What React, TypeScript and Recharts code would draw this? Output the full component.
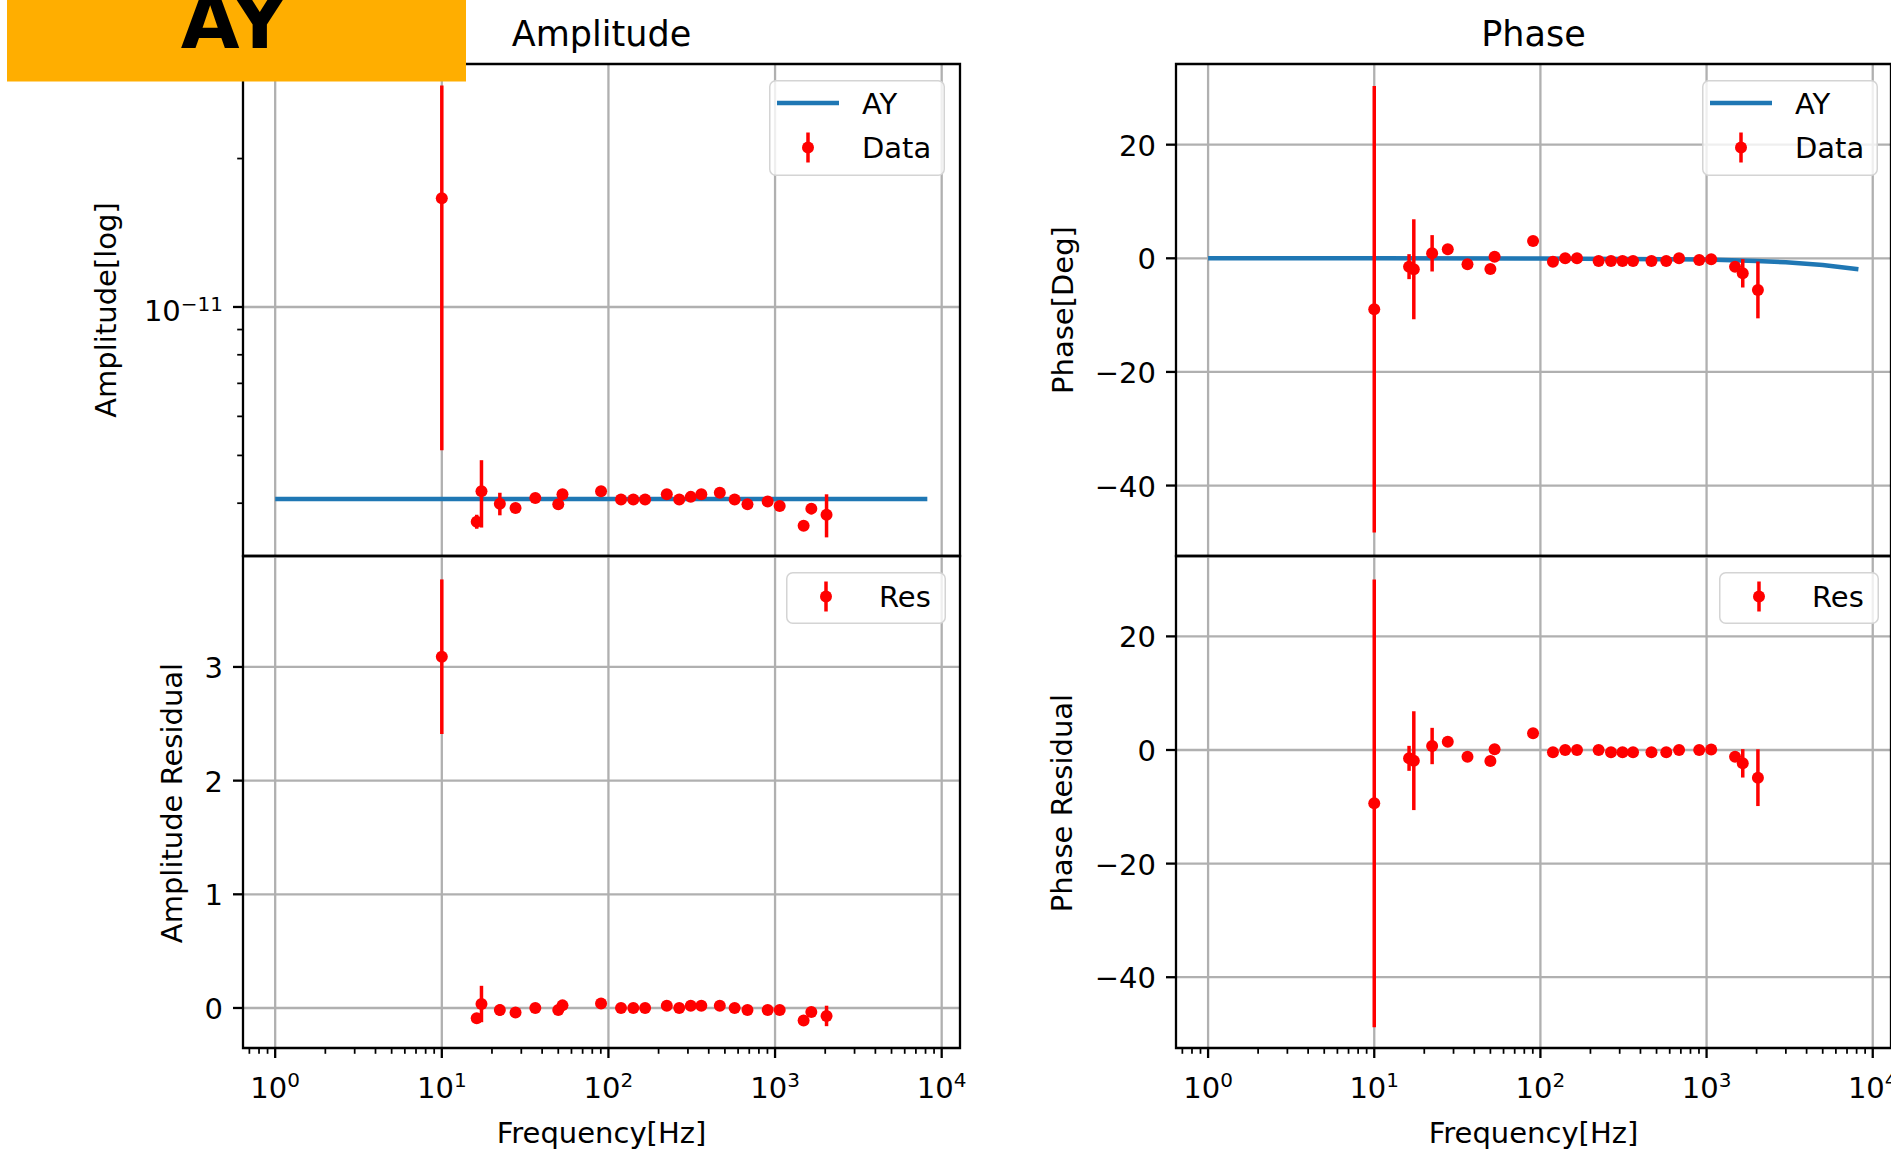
import React from 'react';
import {
  ComposedChart, XAxis, YAxis, CartesianGrid, Scatter, ErrorBar,
  Line, ReferenceArea, Legend,
} from 'recharts';

const FONT = '"DejaVu Sans", sans-serif';
const RED = '#ff0000';
const BLUE = '#1f77b4';
const GRID = '#b0b0b0';

// measurement frequencies [Hz]
const freqs = [10, 16.2, 17.3, 22.3, 27.7, 36.4, 50, 53, 90.3, 119, 141, 166, 224, 266, 312, 361, 466, 572, 683, 903, 1066, 1484, 1651, 2037];

// amplitude (linear units) and 1-sigma errors
const ampVals = [16.62e-12, 3.67e-12, 4.23e-12, 3.99e-12, 3.91e-12, 4.10e-12, 3.98e-12, 4.17e-12, 4.23e-12, 4.07e-12, 4.07e-12, 4.07e-12, 4.17e-12, 4.07e-12, 4.12e-12, 4.17e-12, 4.20e-12, 4.07e-12, 3.98e-12, 4.03e-12, 3.95e-12, 3.60e-12, 3.90e-12, 3.79e-12];
const ampErrs = [11.5e-12, 0.12e-12, 0.66e-12, 0.21e-12, 0.05e-12, 0.04e-12, 0.1e-12, 0.1e-12, 0.06e-12, 0.04e-12, 0.03e-12, 0.03e-12, 0.04e-12, 0.03e-12, 0.03e-12, 0.03e-12, 0.05e-12, 0.03e-12, 0.03e-12, 0.03e-12, 0.04e-12, 0.05e-12, 0.1e-12, 0.38e-12];

const ampRes = [3.09, -0.09, 0.035, -0.018, -0.04, 0, -0.018, 0.023, 0.04, 0, 0, 0, 0.02, 0, 0.02, 0.02, 0.02, 0, -0.018, -0.018, -0.018, -0.11, -0.035, -0.07];
const ampResErrs = [0.68, 0.03, 0.16, 0.05, 0.01, 0.01, 0.02, 0.02, 0.01, 0.01, 0.01, 0.01, 0.01, 0.01, 0.01, 0.01, 0.01, 0.01, 0.01, 0.01, 0.01, 0.01, 0.02, 0.09];

// phase [deg]
const phaseVals = [-8.97, -1.47, -1.93, 0.88, 1.58, -1.06, -1.88, 0.29, 3.05, -0.59, 0, 0, -0.47, -0.47, -0.47, -0.47, -0.47, -0.47, 0, -0.3, -0.18, -1.47, -2.64, -5.57];
const phaseErrs = [39.3, 2.2, 8.8, 3.2, 0.3, 0.3, 0.4, 0.9, 0.3, 0.6, 0.3, 0.2, 0.2, 0.2, 0.2, 0.2, 0.2, 0.2, 0.2, 0.2, 0.3, 0.6, 2.5, 5.0];

const phaseRes = [-9.39, -1.47, -1.88, 0.7, 1.47, -1.17, -1.94, 0.12, 2.93, -0.41, 0, 0, 0, -0.41, -0.41, -0.41, -0.41, -0.41, 0, 0, 0.1, -1.17, -2.35, -4.87];
const phaseResErrs = [39.4, 2.2, 8.7, 3.2, 0.3, 0.3, 0.4, 0.9, 0.3, 0.6, 0.3, 0.2, 0.2, 0.2, 0.2, 0.2, 0.2, 0.2, 0.2, 0.2, 0.3, 0.6, 2.5, 5.0];

// fitted model "AY"
const fitFreqs = [1, 8200];
const fitAmp = [4.08e-12, 4.08e-12];
const phaseFitFreqs = [1, 10, 100, 1000, 2000, 3000, 5000, 8200];
const phaseFit = [0, 0, -0.02, -0.23, -0.47, -0.7, -1.17, -1.93];

// axes
const X_DOMAIN: [number, number] = [0.641, 12880];
const xMajor = [1, 10, 100, 1000, 10000];
const xMinor = [0.7, 0.8, 0.9, 2, 3, 4, 5, 6, 7, 8, 9, 20, 30, 40, 50, 60, 70, 80, 90, 200, 300, 400, 500, 600, 700, 800, 900, 2000, 3000, 4000, 5000, 6000, 7000, 8000, 9000];
const ampYMajor = [1e-11];
const ampYMinor = [4e-12, 5e-12, 6e-12, 7e-12, 8e-12, 9e-12, 2e-11, 3e-11];
const ampResTicks = [0, 1, 2, 3];
const phaseTicks = [-40, -20, 0, 20];

const AMP_DOMAIN: [number, number] = [3.126e-12, 3.11e-11];
const AMP_RES_DOMAIN: [number, number] = [-0.352, 3.976];
const PHASE_DOMAIN: [number, number] = [-52.4, 34.2];
const PHASE_RES_DOMAIN: [number, number] = [-52.46, 34.15];

const zip = (xs: number[], ys: number[], es?: number[]) =>
  xs.map((f, i) => ({ f, y: ys[i], err: es ? es[i] : 0 }));

const isIn = (v: number, arr: number[]) => arr.some(a => Math.abs(a - v) <= Math.abs(a) * 1e-9);
const fmtNum = (v: number) => (v < 0 ? `\u2212${-v}` : `${v}`);

function XTick(props: any) {
  const { x, y, payload } = props;
  const v = payload.value;
  const major = isIn(v, xMajor);
  const axisY = y - 20;
  return (
    <g>
      <line x1={x} x2={x} y1={axisY} y2={axisY + (major ? 10 : 5.8)} stroke="#000" strokeWidth={major ? 2.3 : 1.75} />
      {major && (
        <text x={x} y={axisY + 50} textAnchor="middle" fontFamily={FONT} fontSize={29} fill="#000">
          <tspan>10</tspan>
          <tspan dy={-11} fontSize={20}>{fmtNum(Math.round(Math.log10(v)))}</tspan>
        </text>
      )}
    </g>
  );
}

function LogYTick(props: any) {
  const { x, y, payload } = props;
  const v = payload.value;
  const major = isIn(v, ampYMajor);
  const axisX = x + 20;
  return (
    <g>
      <line x1={axisX - (major ? 10 : 5.8)} x2={axisX} y1={y} y2={y} stroke="#000" strokeWidth={major ? 2.3 : 1.75} />
      {major && (
        <text x={axisX - 20} y={y + 14} textAnchor="end" fontFamily={FONT} fontSize={29} fill="#000">
          <tspan>10</tspan>
          <tspan dy={-10} fontSize={20}>{fmtNum(Math.round(Math.log10(v)))}</tspan>
        </text>
      )}
    </g>
  );
}

function LinYTick(props: any) {
  const { x, y, payload } = props;
  const axisX = x + 20;
  return (
    <g>
      <line x1={axisX - 10} x2={axisX} y1={y} y2={y} stroke="#000" strokeWidth={2.3} />
      <text x={axisX - 20} y={y + 11} textAnchor="end" fontFamily={FONT} fontSize={29} fill="#000">
        {fmtNum(payload.value)}
      </text>
    </g>
  );
}

const dot = (p: any) => <circle cx={p.cx} cy={p.cy} r={6} fill={RED} />;

function LegendBox({ fitName }: { fitName?: string }) {
  const w = fitName ? 176 : 160;
  const h = fitName ? 96 : 52;
  const rows = fitName
    ? [{ icon: 'line', label: fitName, cy: 23 }, { icon: 'err', label: 'Data', cy: 67.5 }]
    : [{ icon: 'err', label: 'Res', cy: 24.5 }];
  const mx = fitName ? 39 : 40;
  return (
    <svg width={w} height={h} style={{ display: 'block' }}>
      <rect x={0.75} y={0.75} width={w - 1.5} height={h - 1.5} rx={6} fill="#fff" fillOpacity={0.8} stroke="#d4d4d4" strokeWidth={1.5} />
      {rows.map(r => (
        <g key={r.label}>
          {r.icon === 'line' ? (
            <line x1={8} x2={70} y1={r.cy} y2={r.cy} stroke={BLUE} strokeWidth={4.5} />
          ) : (
            <g>
              <line x1={mx} x2={mx} y1={r.cy - 15} y2={r.cy + 15} stroke={RED} strokeWidth={3.5} />
              <circle cx={mx} cy={r.cy} r={6} fill={RED} />
            </g>
          )}
          <text x={93} y={r.cy + 10.5} fontFamily={FONT} fontSize={29} fill="#000">{r.label}</text>
        </g>
      ))}
    </svg>
  );
}

const PLOT_H = 492;
const AXIS_W = 130;
const M = 10;
const X_AXIS_H = 70;

interface PanelProps {
  plotLeft: number;
  plotTop: number;
  plotW: number;
  bottom: boolean;
  yScale: 'log' | 'linear';
  yDomain: [number, number];
  yTicks: number[];
  yGrid: number[];
  tick: (p: any) => React.ReactElement;
  points: { f: number; y: number; err: number }[];
  fit?: { f: number; y: number; err: number }[];
  fitName?: string;
}

function Panel(p: PanelProps) {
  const width = AXIS_W + p.plotW + M;
  const height = M + PLOT_H + M + (p.bottom ? X_AXIS_H : 0);
  const lw = p.fitName ? 176 : 160;
  const lh = p.fitName ? 96 : 52;
  return (
    <div style={{ position: 'absolute', left: p.plotLeft - AXIS_W, top: p.plotTop - M }}>
      <ComposedChart width={width} height={height} margin={{ top: M, right: M, bottom: M, left: 0 }}>
        <CartesianGrid stroke={GRID} strokeWidth={2.3} verticalValues={xMajor} horizontalValues={p.yGrid} />
        <XAxis
          dataKey="f" type="number" scale="log" domain={X_DOMAIN} allowDataOverflow
          ticks={[...xMajor, ...xMinor]} interval={0} hide={!p.bottom} height={X_AXIS_H}
          axisLine={false} tickLine={false} tickSize={10} tickMargin={10} tick={XTick}
        />
        <YAxis
          dataKey="y" type="number" scale={p.yScale} domain={p.yDomain} allowDataOverflow
          ticks={p.yTicks} interval={0} width={AXIS_W}
          axisLine={false} tickLine={false} tickSize={10} tickMargin={10} tick={p.tick}
        />
        {p.fit && (
          <Line data={p.fit} dataKey="y" type="linear" dot={false} activeDot={false}
            stroke={BLUE} strokeWidth={4.5} isAnimationActive={false} />
        )}
        <Scatter data={p.points} dataKey="y" shape={dot} isAnimationActive={false}>
          <ErrorBar dataKey="err" direction="y" width={0} stroke={RED} strokeWidth={3.5} isAnimationActive={false} />
        </Scatter>
        <ReferenceArea x1={X_DOMAIN[0]} x2={X_DOMAIN[1]} y1={p.yDomain[0]} y2={p.yDomain[1]}
          fill="none" stroke="#000" strokeWidth={2.3} ifOverflow="visible" />
        <Legend
          layout="vertical" align="center" verticalAlign="middle"
          content={() => <LegendBox fitName={p.fitName} />}
          wrapperStyle={{ left: AXIS_W + (p.fitName ? 526 : 543), top: M + 15.6, width: lw, height: lh }}
        />
      </ComposedChart>
    </div>
  );
}

export default function App() {
  const ampData = zip(freqs, ampVals, ampErrs);
  const ampResData = zip(freqs, ampRes, ampResErrs);
  const phaseData = zip(freqs, phaseVals, phaseErrs);
  const phaseResData = zip(freqs, phaseRes, phaseResErrs);
  const ampFit = zip(fitFreqs, fitAmp);
  const phFit = zip(phaseFitFreqs, phaseFit);

  const label = { fontFamily: FONT, fontSize: 29, fill: '#000' } as const;

  return (
    <div style={{ position: 'absolute', left: 0, top: 0, width: 1891, height: 1155, background: '#fff', overflow: 'hidden' }}>
      <Panel plotLeft={243} plotTop={64} plotW={717} bottom={false} yScale="log" yDomain={AMP_DOMAIN}
        yTicks={[...ampYMajor, ...ampYMinor]} yGrid={ampYMajor} tick={LogYTick}
        points={ampData} fit={ampFit} fitName="AY" />
      <Panel plotLeft={243} plotTop={556} plotW={717} bottom yScale="linear" yDomain={AMP_RES_DOMAIN}
        yTicks={ampResTicks} yGrid={ampResTicks} tick={LinYTick} points={ampResData} />
      <Panel plotLeft={1176} plotTop={64} plotW={715} bottom={false} yScale="linear" yDomain={PHASE_DOMAIN}
        yTicks={phaseTicks} yGrid={phaseTicks} tick={LinYTick}
        points={phaseData} fit={phFit} fitName="AY" />
      <Panel plotLeft={1176} plotTop={556} plotW={715} bottom yScale="linear" yDomain={PHASE_RES_DOMAIN}
        yTicks={phaseTicks} yGrid={phaseTicks} tick={LinYTick} points={phaseResData} />

      <svg width={1891} height={1155} style={{ position: 'absolute', left: 0, top: 0, pointerEvents: 'none' }}>
        <rect x={7} y={0} width={459} height={81.5} fill="#ffae00" />
        <text x={234} y={48} textAnchor="middle" fontFamily={FONT} fontSize={76} fontWeight="bold" fill="#000">AY</text>
        <text x={601.5} y={45.5} textAnchor="middle" fontFamily={FONT} fontSize={35} fill="#000">Amplitude</text>
        <text x={1533.5} y={45.5} textAnchor="middle" fontFamily={FONT} fontSize={35} fill="#000">Phase</text>
        <text x={601.5} y={1143} textAnchor="middle" {...label}>Frequency[Hz]</text>
        <text x={1533.5} y={1143} textAnchor="middle" {...label}>Frequency[Hz]</text>
        <text transform="translate(116,310) rotate(-90)" textAnchor="middle" {...label}>Amplitude[log]</text>
        <text transform="translate(182,803) rotate(-90)" textAnchor="middle" {...label}>Amplitude Residual</text>
        <text transform="translate(1073,310) rotate(-90)" textAnchor="middle" {...label}>Phase[Deg]</text>
        <text transform="translate(1072,803) rotate(-90)" textAnchor="middle" {...label}>Phase Residual</text>
      </svg>
    </div>
  );
}
